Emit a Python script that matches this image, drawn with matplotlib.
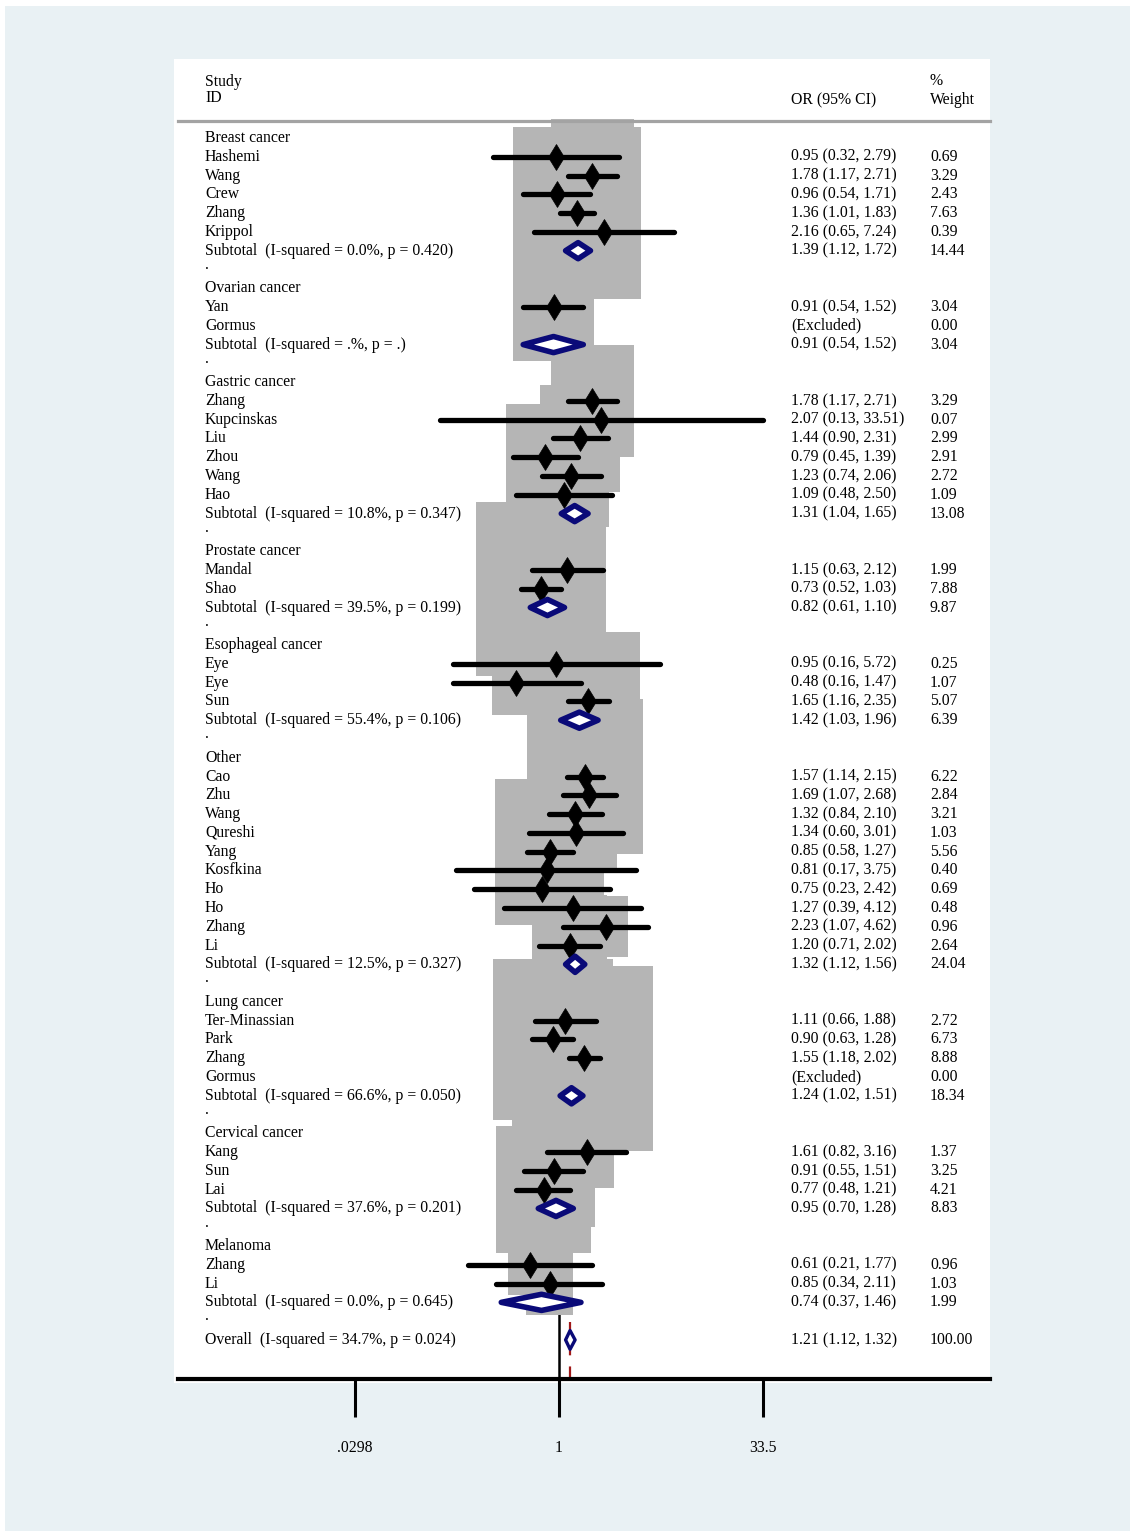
import matplotlib
matplotlib.use("Agg")
import matplotlib.pyplot as plt
from matplotlib.patches import Rectangle, Polygon
from matplotlib.path import Path
from matplotlib.ticker import NullLocator
import numpy as np

plt.rcParams['font.family'] = ['Liberation Serif', 'DejaVu Serif']

# ---------------- data ----------------
group_names = ["Breast cancer", "Ovarian cancer", "Gastric cancer", "Prostate cancer",
               "Esophageal cancer", "Other", "Lung cancer", "Cervical cancer", "Melanoma"]

study_group = [0, 0, 0, 0, 0,
               1, 1,
               2, 2, 2, 2, 2, 2,
               3, 3,
               4, 4, 4,
               5, 5, 5, 5, 5, 5, 5, 5, 5, 5,
               6, 6, 6, 6,
               7, 7, 7,
               8, 8]
study_labels = ["Hashemi", "Wang", "Crew", "Zhang", "Krippol",
                "Yan", "Gormus",
                "Zhang", "Kupcinskas", "Liu", "Zhou", "Wang", "Hao",
                "Mandal", "Shao",
                "Eye", "Eye", "Sun",
                "Cao", "Zhu", "Wang", "Qureshi", "Yang", "Kosfkina", "Ho", "Ho", "Zhang", "Li",
                "Ter-Minassian", "Park", "Zhang", "Gormus",
                "Kang", "Sun", "Lai",
                "Zhang", "Li"]
study_or = [0.95, 1.78, 0.96, 1.36, 2.16,
            0.91, None,
            1.78, 2.07, 1.44, 0.79, 1.23, 1.09,
            1.15, 0.73,
            0.95, 0.48, 1.65,
            1.57, 1.69, 1.32, 1.34, 0.85, 0.81, 0.75, 1.27, 2.23, 1.20,
            1.11, 0.90, 1.55, None,
            1.61, 0.91, 0.77,
            0.61, 0.85]
study_lo = [0.32, 1.17, 0.54, 1.01, 0.65,
            0.54, None,
            1.17, 0.13, 0.90, 0.45, 0.74, 0.48,
            0.63, 0.52,
            0.16, 0.16, 1.16,
            1.14, 1.07, 0.84, 0.60, 0.58, 0.17, 0.23, 0.39, 1.07, 0.71,
            0.66, 0.63, 1.18, None,
            0.82, 0.55, 0.48,
            0.21, 0.34]
study_hi = [2.79, 2.71, 1.71, 1.83, 7.24,
            1.52, None,
            2.71, 33.51, 2.31, 1.39, 2.06, 2.50,
            2.12, 1.03,
            5.72, 1.47, 2.35,
            2.15, 2.68, 2.10, 3.01, 1.27, 3.75, 2.42, 4.12, 4.62, 2.02,
            1.88, 1.28, 2.02, None,
            3.16, 1.51, 1.21,
            1.77, 2.11]
study_weight = [0.69, 3.29, 2.43, 7.63, 0.39,
                3.04, 0.00,
                3.29, 0.07, 2.99, 2.91, 2.72, 1.09,
                1.99, 7.88,
                0.25, 1.07, 5.07,
                6.22, 2.84, 3.21, 1.03, 5.56, 0.40, 0.69, 0.48, 0.96, 2.64,
                2.72, 6.73, 8.88, 0.00,
                1.37, 3.25, 4.21,
                0.96, 1.03]

subtotal_i2 = ["0.0", ".", "10.8", "39.5", "55.4", "12.5", "66.6", "37.6", "0.0"]
subtotal_p = ["0.420", ".", "0.347", "0.199", "0.106", "0.327", "0.050", "0.201", "0.645"]
subtotal_or = [1.39, 0.91, 1.31, 0.82, 1.42, 1.32, 1.24, 0.95, 0.74]
subtotal_lo = [1.12, 0.54, 1.04, 0.61, 1.03, 1.12, 1.02, 0.70, 0.37]
subtotal_hi = [1.72, 1.52, 1.65, 1.10, 1.96, 1.56, 1.51, 1.28, 1.46]
subtotal_weight = [14.44, 3.04, 13.08, 9.87, 6.39, 24.04, 18.34, 8.83, 1.99]

overall_i2 = "34.7"
overall_p = "0.024"
overall_or = 1.21
overall_lo = 1.12
overall_hi = 1.32
overall_weight = 100.00

tick_values = [0.0298, 1, 33.5]
tick_labels = [".0298", "1", "33.5"]

# ---------------- layout ----------------
W, H = 1130, 1531
fig = plt.figure(figsize=(W / 100, H / 100), dpi=100, facecolor='#e9f1f4')

def fx(px):
    return px / W

def fy(py):
    return 1 - py / H

# white strips at top/left edge
fig.add_artist(Rectangle((0, fy(6)), 1, 6 / H, transform=fig.transFigure,
                         facecolor='white', edgecolor='none', zorder=-2))
fig.add_artist(Rectangle((0, 0), 5 / W, 1, transform=fig.transFigure,
                         facecolor='white', edgecolor='none', zorder=-2))
# white plot panel
fig.add_artist(Rectangle((fx(174), fy(1383)), (990 - 174) / W, (1383 - 59) / H,
                         transform=fig.transFigure, facecolor='white',
                         edgecolor='none', zorder=-1))

ax_left, ax_right, ax_top, ax_bottom = 178, 990, 62, 1379
ax = fig.add_axes([fx(ax_left), fy(ax_bottom), (ax_right - ax_left) / W,
                   (ax_bottom - ax_top) / H])
ax.patch.set_alpha(0)

row0_px, row_px = 138, 18.78
ax.set_ylim((ax_bottom - row0_px) / row_px, (ax_top - row0_px) / row_px)
ax.set_xscale('log')
ax.set_xlim(0.001416, 1671)

for s in ['top', 'left', 'right']:
    ax.spines[s].set_visible(False)
ax.spines['bottom'].set_linewidth(3)
ax.set_yticks([])
ax.set_xticks(tick_values)
ax.set_xticklabels(tick_labels)
ax.xaxis.set_minor_locator(NullLocator())
ax.tick_params(axis='x', length=27, width=2.2, pad=17, labelsize=11.3)

trans = ax.get_yaxis_transform()
FS = 11.3
x_lab, x_or, x_wt = 0.0333, 0.755, 0.926

# header
ax.text(x_lab, -2.98, "Study", transform=trans, fontsize=FS, va='center')
ax.text(x_lab, -2.12, "ID", transform=trans, fontsize=FS, va='center')
ax.text(x_or, -2.02, "OR (95% CI)", transform=trans, fontsize=FS, va='center')
ax.text(x_wt, -3.05, "%", transform=trans, fontsize=FS, va='center')
ax.text(x_wt, -2.02, "Weight", transform=trans, fontsize=FS, va='center')
ax.plot([0, 1], [-0.905, -0.905], transform=trans, color='#a3a3a3', lw=2.3,
        clip_on=False, zorder=8)

# vertical reference lines
ax.plot([1, 1], [-0.85, 70], color='black', lw=1.8, zorder=0.5)
ax.plot([overall_or, overall_or], [-0.85, 70], color='#a01818', lw=1.6,
        dashes=(5, 5), zorder=0.5)

# weight box marker: taller than wide (aspect of the original rendering)
box_aspect = 1.34
box_marker = Path([(-0.5 / box_aspect, -0.5), (0.5 / box_aspect, -0.5),
                   (0.5 / box_aspect, 0.5), (-0.5 / box_aspect, 0.5),
                   (-0.5 / box_aspect, -0.5)], closed=True)
box_scale = 1993.0
navy = '#0a0a78'
dia_h = 0.43

row = 0
for g, gname in enumerate(group_names):
    ax.text(x_lab, row, gname, transform=trans, fontsize=FS, va='center')
    row += 1
    for i in [k for k, gg in enumerate(study_group) if gg == g]:
        ax.text(x_lab, row, study_labels[i], transform=trans, fontsize=FS, va='center')
        if study_or[i] is None:
            ax.text(x_or, row, "(Excluded)", transform=trans, fontsize=FS, va='center')
        else:
            ax.text(x_or, row, f"{study_or[i]:.2f} ({study_lo[i]:.2f}, {study_hi[i]:.2f})",
                    transform=trans, fontsize=FS, va='center')
            ax.scatter([study_or[i]], [row], s=box_scale * study_weight[i], marker=box_marker,
                       color='#b5b5b5', edgecolors='none', zorder=1)
            ax.plot([study_lo[i], study_hi[i]], [row, row], color='black', lw=3.8,
                    solid_capstyle='round', zorder=4)
            ax.plot([study_or[i]], [row], marker='d', ms=13.7, color='black',
                    mec='black', mew=0.5, zorder=5)
        ax.text(x_wt, row, f"{study_weight[i]:.2f}", transform=trans, fontsize=FS, va='center')
        row += 1
    # subtotal
    ax.text(x_lab, row, f"Subtotal  (I-squared = {subtotal_i2[g]}%, p = {subtotal_p[g]})",
            transform=trans, fontsize=FS, va='center')
    ax.text(x_or, row, f"{subtotal_or[g]:.2f} ({subtotal_lo[g]:.2f}, {subtotal_hi[g]:.2f})",
            transform=trans, fontsize=FS, va='center')
    ax.text(x_wt, row, f"{subtotal_weight[g]:.2f}", transform=trans, fontsize=FS, va='center')
    ax.add_patch(Polygon([(subtotal_lo[g], row), (subtotal_or[g], row - dia_h),
                          (subtotal_hi[g], row), (subtotal_or[g], row + dia_h)],
                         closed=True, facecolor='white', edgecolor=navy, lw=4.0,
                         joinstyle='round', zorder=6))
    row += 1
    ax.text(x_lab, row - 0.25, ".", transform=trans, fontsize=FS, va='center')
    row += 1

# overall
ax.text(x_lab, row, f"Overall  (I-squared = {overall_i2}%, p = {overall_p})",
        transform=trans, fontsize=FS, va='center')
ax.text(x_or, row, f"{overall_or:.2f} ({overall_lo:.2f}, {overall_hi:.2f})",
        transform=trans, fontsize=FS, va='center')
ax.text(x_wt, row, f"{overall_weight:.2f}", transform=trans, fontsize=FS, va='center')
ax.add_patch(Polygon([(overall_lo, row), (overall_or, row - 0.5),
                      (overall_hi, row), (overall_or, row + 0.5)],
                     closed=True, facecolor='white', edgecolor=navy, lw=2.4,
                     joinstyle='round', zorder=6))

fig.savefig("out.png", dpi=100, facecolor=fig.get_facecolor())
